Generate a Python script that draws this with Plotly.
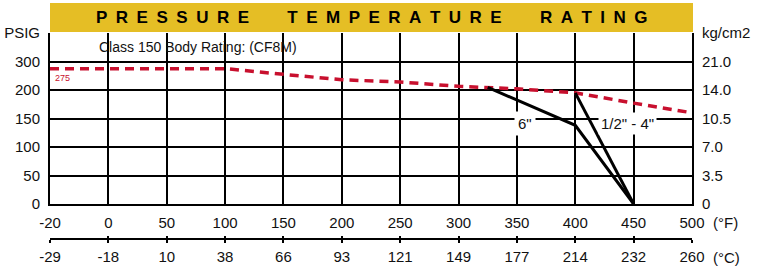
import numpy as np
import plotly.graph_objects as go

# ---- data ----
temp_F_ticks = [-20, 0, 50, 100, 150, 200, 250, 300, 350, 400, 450, 500]
temp_C_ticks = ["-29", "-18", "10", "38", "66", "93", "121", "149", "177", "214", "232", "260"]
psig_ticks = [0, 50, 100, 150, 200, 300]
kg_ticks = ["0", "3.5", "7.0", "10.5", "14.0", "21.0"]

class150_F = [-20, 0, 50, 100, 150, 200, 250, 300, 350, 400, 450, 500]
class150_psig = [275, 275, 275, 275, 255, 236, 228, 213, 204, 195, 177, 160]

six_F = [325, 400, 450]
six_psig = [209, 138, 0]

small_F = [400, 450]
small_psig = [195, 0]

# axis position scales (chart uses evenly spaced gridlines)
xpos_ticks = list(range(len(temp_F_ticks)))
ypos_ticks = list(range(len(psig_ticks)))


def xs(v):
    return np.interp(v, temp_F_ticks, xpos_ticks)


def ys(v):
    return np.interp(v, psig_ticks, ypos_ticks)


FONT = "Liberation Sans, Arial"
RED = "#C8102E"
YEL = "#E5BE25"

fig = go.Figure()
fig.add_trace(go.Scatter(x=xs(class150_F), y=ys(class150_psig), mode="lines",
                         line=dict(color=RED, width=3.5, dash="9px,6px"),
                         hoverinfo="skip", showlegend=False))
fig.add_trace(go.Scatter(x=xs(six_F), y=ys(six_psig), mode="lines",
                         line=dict(color="black", width=3),
                         hoverinfo="skip", showlegend=False))
fig.add_trace(go.Scatter(x=xs(small_F), y=ys(small_psig), mode="lines",
                         line=dict(color="black", width=3),
                         hoverinfo="skip", showlegend=False))
fig.add_trace(go.Scatter(x=[None], y=[None], xaxis="x2", yaxis="y2",
                         hoverinfo="skip", showlegend=False))
fig.add_trace(go.Scatter(x=[None], y=[None], xaxis="x3", yaxis="y2",
                         hoverinfo="skip", showlegend=False))

W, H = 760, 266
ml, mr, mt, mb = 50, 68, 33, 0
ph = H - mt - mb
pw = W - ml - mr
plot_bottom_px = 204
ydom0 = (H - plot_bottom_px) / ph


def py(px):
    return (H - px) / ph


def pxx(px):
    return (px - ml) / pw


tickfont = dict(family=FONT, size=15, color="#111")

fig.update_layout(
    template="none",
    width=W, height=H,
    margin=dict(l=ml, r=mr, t=mt, b=mb, pad=0),
    paper_bgcolor="white", plot_bgcolor="white",
    xaxis=dict(range=[0, 11], tickvals=xpos_ticks, ticktext=[str(t) for t in temp_F_ticks],
               showgrid=True, gridcolor="black", gridwidth=2,
               showline=True, linecolor="black", linewidth=2,
               ticks="", tickfont=tickfont, zeroline=False, ticklabelstandoff=4,
               anchor="y", fixedrange=True, automargin=False),
    yaxis=dict(range=[0, 6], domain=[ydom0, 1], tickvals=ypos_ticks + [6],
               ticktext=[str(t) for t in psig_ticks] + ["PSIG"],
               showgrid=True, gridcolor="black", gridwidth=2,
               showline=True, linecolor="black", linewidth=2,
               ticks="", tickfont=tickfont, zeroline=False, ticklabelstandoff=5,
               fixedrange=True, automargin=False),
    yaxis2=dict(range=[0, 6], overlaying="y", side="right", anchor="x",
                tickvals=ypos_ticks + [6], ticktext=kg_ticks + ["kg/cm2"],
                showgrid=False, showline=True, linecolor="black", linewidth=2,
                ticks="", tickfont=tickfont, zeroline=False, ticklabelstandoff=5,
                fixedrange=True, automargin=False),
    xaxis2=dict(range=[0, 11], overlaying="x", anchor="free", position=py(239),
                tickvals=xpos_ticks, ticktext=temp_C_ticks, side="bottom",
                showgrid=False, showline=True, linecolor="black", linewidth=1.5,
                ticks="outside", ticklen=3, tickwidth=1.5, tickcolor="black",
                tickfont=tickfont, zeroline=False, ticklabelstandoff=1,
                fixedrange=True, automargin=False),
    xaxis3=dict(range=[0, 11], overlaying="x", anchor="free", position=py(239),
                tickvals=xpos_ticks, showticklabels=False, side="bottom",
                showgrid=False, showline=False,
                ticks="inside", ticklen=3, tickwidth=1.5, tickcolor="black",
                zeroline=False, fixedrange=True, automargin=False),
    showlegend=False,
)

# title bar
fig.add_shape(type="rect", xref="paper", yref="paper",
              x0=0, x1=pxx(693), y0=py(32), y1=py(3),
              fillcolor=YEL, line=dict(width=0), layer="below")

words = ["PRESSURE", "TEMPERATURE", "RATING"]
title = ("\u2002" * 4 + "\u2005").join("\u2002".join(w) for w in words)
fig.add_annotation(xref="paper", yref="paper", x=pxx(371.5), y=py(17.5),
                   text="<b>" + title + "</b>", showarrow=False,
                   font=dict(family="Liberation Sans, Arial", size=17, color="black"),
                   xanchor="center", yanchor="middle")

fig.add_annotation(x=0.8, y=5.52, text="Class 150 Body Rating: (CF8M)", showarrow=False,
                   xanchor="left", yanchor="middle", font=dict(family=FONT, size=14, color="#111"))
fig.add_annotation(x=0.05, y=ys(275) - 0.33, text="275", showarrow=False,
                   xanchor="left", yanchor="middle", font=dict(family=FONT, size=9, color=RED))
fig.add_annotation(x=8.14, y=2.84, text='6"', showarrow=False, bgcolor="white",
                   xanchor="center", yanchor="middle", borderpad=3,
                   font=dict(family=FONT, size=15, color="#111"))
fig.add_annotation(x=9.9, y=2.84, text='1/2" - 4"', showarrow=False, bgcolor="white",
                   xanchor="center", yanchor="middle", borderpad=2,
                   font=dict(family=FONT, size=15, color="#111"))
fig.add_annotation(xref="paper", yref="paper", x=pxx(711), y=py(222),
                   text="(°F)", showarrow=False, xanchor="left", yanchor="middle",
                   font=dict(family=FONT, size=15, color="#111"))
fig.add_annotation(xref="paper", yref="paper", x=pxx(711), y=py(257),
                   text="(°C)", showarrow=False, xanchor="left", yanchor="middle",
                   font=dict(family=FONT, size=15, color="#111"))

fig.write_html("out.html", config={"displayModeBar": False},
               post_script="document.body.style.margin='0';document.body.style.overflow='hidden';")
